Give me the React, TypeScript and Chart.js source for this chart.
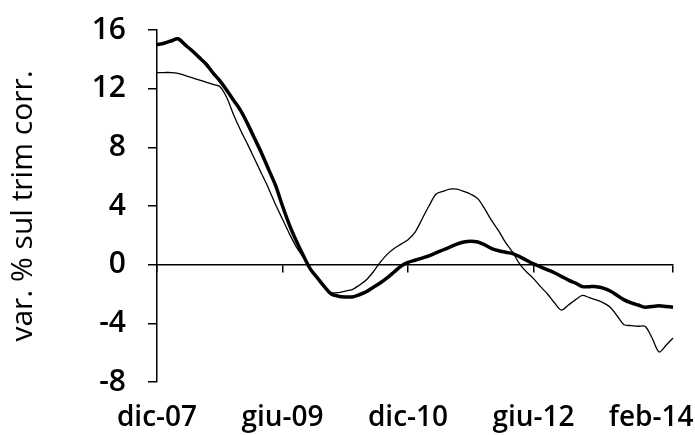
import React, { useEffect, useRef } from 'react';
import { Chart, registerables } from 'chart.js';

Chart.register(...registerables);

const months: string[] = [
  'dic-07',
  'gen-08', 'feb-08', 'mar-08', 'apr-08', 'mag-08', 'giu-08', 'lug-08', 'ago-08', 'set-08', 'ott-08', 'nov-08', 'dic-08',
  'gen-09', 'feb-09', 'mar-09', 'apr-09', 'mag-09', 'giu-09', 'lug-09', 'ago-09', 'set-09', 'ott-09', 'nov-09', 'dic-09',
  'gen-10', 'feb-10', 'mar-10', 'apr-10', 'mag-10', 'giu-10', 'lug-10', 'ago-10', 'set-10', 'ott-10', 'nov-10', 'dic-10',
  'gen-11', 'feb-11', 'mar-11', 'apr-11', 'mag-11', 'giu-11', 'lug-11', 'ago-11', 'set-11', 'ott-11', 'nov-11', 'dic-11',
  'gen-12', 'feb-12', 'mar-12', 'apr-12', 'mag-12', 'giu-12', 'lug-12', 'ago-12', 'set-12', 'ott-12', 'nov-12', 'dic-12',
  'gen-13', 'feb-13', 'mar-13', 'apr-13', 'mag-13', 'giu-13', 'lug-13', 'ago-13', 'set-13', 'ott-13', 'nov-13', 'dic-13',
  'gen-14', 'feb-14',
];

// thick series
const seriesThick: number[] = [
  15.0, 15.1, 15.25, 15.4, 15.0, 14.6, 14.15, 13.7, 13.1, 12.55, 11.9, 11.2, 10.5,
  9.6, 8.6, 7.6, 6.5, 5.4, 4.0, 2.7, 1.6, 0.6, -0.3, -0.9, -1.5,
  -2.0, -2.15, -2.2, -2.2, -2.05, -1.85, -1.55, -1.25, -0.9, -0.5, -0.1, 0.15,
  0.3, 0.45, 0.6, 0.8, 1.0, 1.2, 1.4, 1.55, 1.6, 1.55, 1.35, 1.1,
  0.95, 0.85, 0.75, 0.55, 0.3, 0.05, -0.15, -0.35, -0.55, -0.8, -1.05, -1.25,
  -1.5, -1.5, -1.5, -1.6, -1.8, -2.1, -2.4, -2.6, -2.75, -2.9, -2.85, -2.8,
  -2.85, -2.9,
];

// thin series
const seriesThin: number[] = [
  13.1, 13.1, 13.1, 13.05, 12.9, 12.75, 12.6, 12.45, 12.3, 12.15, 11.4, 10.2, 9.15,
  8.2, 7.2, 6.2, 5.2, 4.1, 3.1, 2.1, 1.2, 0.5, -0.3, -0.9, -1.5,
  -1.9, -1.9, -1.8, -1.7, -1.4, -1.05, -0.5, 0.15, 0.7, 1.1, 1.4, 1.7,
  2.2, 3.1, 4.0, 4.8, 5.0, 5.15, 5.15, 5.0, 4.8, 4.5, 3.8, 3.0,
  2.3, 1.5, 0.85, 0.05, -0.5, -0.95, -1.5, -2.0, -2.6, -3.1, -2.75, -2.4,
  -2.1, -2.25, -2.4, -2.6, -2.9, -3.5, -4.1, -4.15, -4.2, -4.2, -5.0, -5.95,
  -5.5, -5.0,
];

const xTickLabels: string[] = ['dic-07', 'giu-09', 'dic-10', 'giu-12', 'feb-14'];
const yMin = -8;
const yMax = 16;
const yStep = 4;
const yTitle = 'var. % sul trim corr.';

export default function App() {
  const ref = useRef<HTMLCanvasElement>(null);

  useEffect(() => {
    const shown = (i: number) => xTickLabels.includes(months[i]);
    const chart = new Chart(ref.current as HTMLCanvasElement, {
      type: 'line',
      data: {
        labels: months,
        datasets: [
          {
            label: 'serie 1',
            data: seriesThick,
            borderColor: '#000',
            borderWidth: 3.5,
            pointRadius: 0,
            tension: 0.3,
            fill: false,
          },
          {
            label: 'serie 2',
            data: seriesThin,
            borderColor: '#000',
            borderWidth: 1.3,
            pointRadius: 0,
            tension: 0.3,
            fill: false,
          },
        ],
      },
      options: {
        responsive: false,
        animation: false,
        layout: { padding: { top: 30, right: 22, bottom: 0, left: 0 } },
        plugins: { legend: { display: false }, tooltip: { enabled: false } },
        scales: {
          x: {
            type: 'category',
            position: 'bottom',
            offset: false,
            grid: { display: false, drawTicks: false },
            border: { display: false },
            ticks: {
              autoSkip: false,
              maxRotation: 0,
              minRotation: 0,
              padding: 19,
              color: '#000',
              font: { family: 'Open Sans', size: 28, weight: '600' },
              callback: (_v: any, i: number) =>
                shown(i) ? (i === months.length - 1 ? months[i] + '\u00a0'.repeat(6) : months[i]) : '',
            },
            afterFit: (s: any) => {
              s.height = 53;
              s.paddingLeft = 0;
              s.paddingRight = 0;
              s.paddingTop = 0;
              s.paddingBottom = 0;
            },
          },
          x2: {
            type: 'category',
            axis: 'x',
            position: { y: 0 },
            offset: false,
            grid: {
              drawOnChartArea: false,
              drawTicks: true,
              tickLength: 7,
              lineWidth: 1.5,
              color: (ctx: any) => (shown(ctx.index) ? '#000' : 'rgba(0,0,0,0)'),
            },
            border: { display: true, color: '#000', width: 1.5 },
            ticks: { autoSkip: false, maxRotation: 0, minRotation: 0, padding: 0, callback: () => '' },
            afterFit: (s: any) => {
              s.height = 0;
              s.paddingLeft = 0;
              s.paddingRight = 0;
              s.paddingTop = 0;
              s.paddingBottom = 0;
            },
          } as any,
          y: {
            min: yMin,
            max: yMax,
            ticks: {
              stepSize: yStep,
              padding: 22,
              color: '#000',
              font: { family: 'Open Sans', size: 30, weight: '600' },
            },
            grid: { drawOnChartArea: false, drawTicks: true, tickLength: 9, color: '#000', lineWidth: 1.5 },
            border: { color: '#000', width: 1.5 },
            title: {
              display: true,
              text: yTitle,
              color: '#000',
              font: { family: 'Open Sans', size: 30, weight: '400' },
              padding: { top: 5, bottom: 0 },
            },
            afterFit: (s: any) => {
              s.width = 157;
              s.paddingTop = 0;
              s.paddingBottom = 0;
            },
          },
        },
      },
    });
    return () => chart.destroy();
  }, []);

  return (
    <div style={{ position: 'absolute', left: 0, top: 0, width: 695, height: 435, background: '#fff' }}>
      <canvas ref={ref} width={695} height={435} />
    </div>
  );
}
